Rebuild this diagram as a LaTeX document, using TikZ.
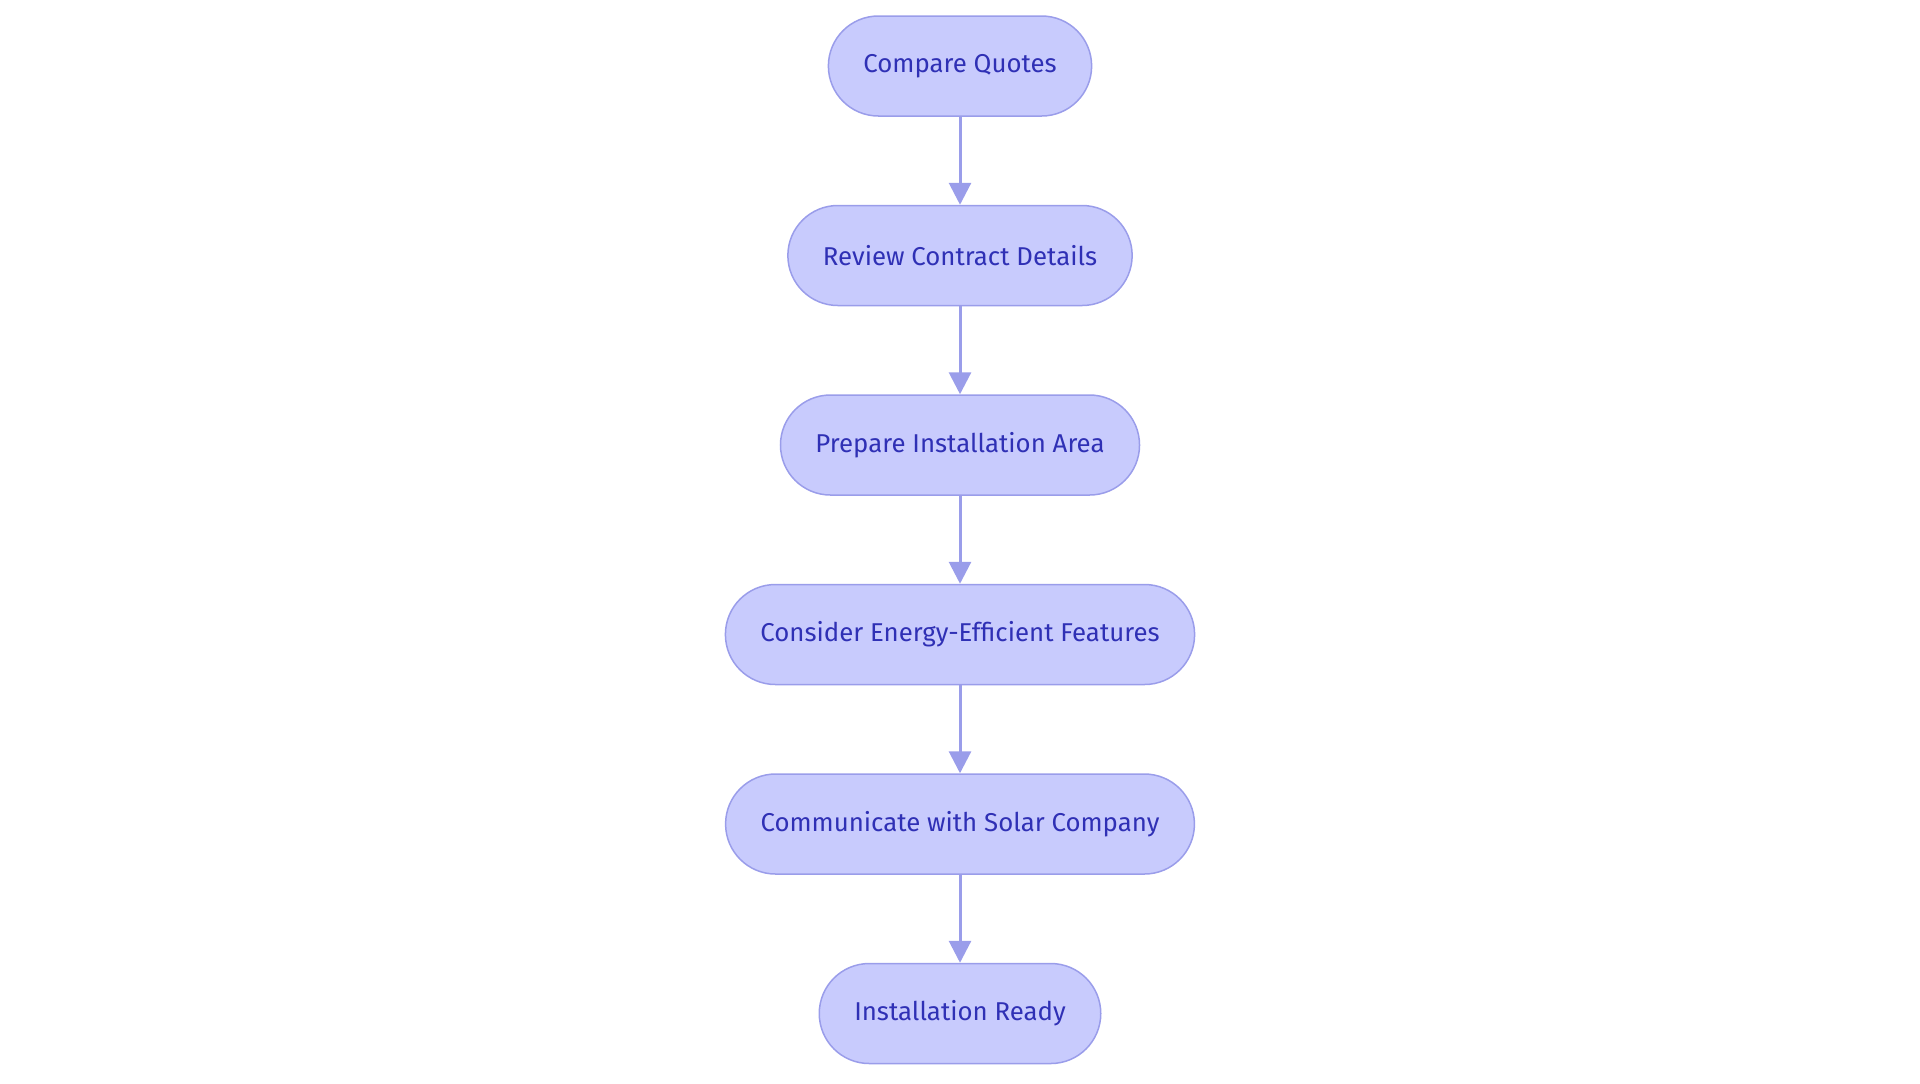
\documentclass[tikz,border=0pt]{standalone}
\usepackage{fontspec}
\setmainfont{Fira Sans}
\usetikzlibrary{arrows.meta,positioning,shapes}
\definecolor{stepfill}{HTML}{C8CBFD}
\definecolor{stepline}{HTML}{9A9DEA}
\definecolor{steptext}{HTML}{2F30B5}
\tikzstyle{stage}=[draw=stepline, line width=.75pt, fill=stepfill, text=steptext,
  rounded corners=25pt, minimum height=50pt, inner xsep=17.5pt,
  font=\fontsize{12.9}{14}\selectfont]
\tikzstyle{flow}=[draw=stepline, line width=1.5pt, -{Triangle[width=11pt,length=11pt]}]

\begin{document}
\begin{tikzpicture}[node distance=44pt]

    % Frame
    \useasboundingbox (0,0) rectangle (960pt,-541.5pt);

    % Steps
    \node[stage] (quotes) at (480pt,-33pt) {Compare Quotes};
    \node[stage, below=of quotes] (contract) {Review Contract Details};
    \node[stage, below=of contract] (area) {Prepare Installation Area};
    \node[stage, below=of area] (energy) {Consider Energy-Efficient Features};
    \node[stage, below=of energy] (company) {Communicate with Solar Company};
    \node[stage, below=of company] (ready) {Installation Ready};

    % Arrows
    \draw[flow] (quotes) -- (contract);
    \draw[flow] (contract) -- (area);
    \draw[flow] (area) -- (energy);
    \draw[flow] (energy) -- (company);
    \draw[flow] (company) -- (ready);

\end{tikzpicture}
\end{document}
